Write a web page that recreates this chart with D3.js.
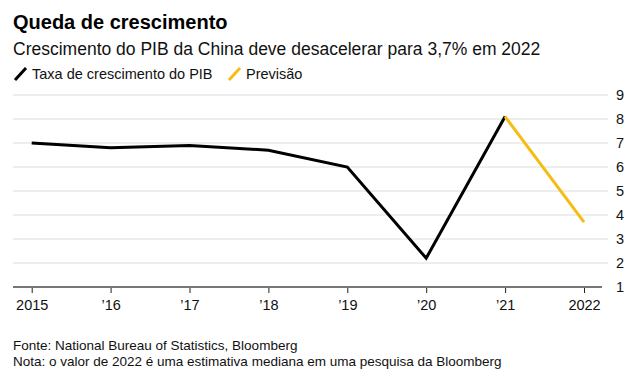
<!DOCTYPE html>
<html>
<head>
<meta charset="utf-8">
<script src="https://cdn.jsdelivr.net/npm/d3@7"></script>
<style>
  body { margin: 0; background: #fff; }
  svg { font-family: "Liberation Sans", Arial, sans-serif; }
</style>
</head>
<body>
<div id="chart"></div>
<script>
(function() {
    'use strict';

    var years = ['2015', '2016', '2017', '2018', '2019', '2020', '2021', '2022'];
    var tickLabels = ['2015', '\u201916', '\u201917', '\u201918', '\u201919', '\u201920', '\u201921', '2022'];
    var gdpGrowth = [7.0, 6.8, 6.9, 6.7, 6.0, 2.2, 8.1];       // 2015-2021
    var forecast = [8.1, 3.7];                                 // 2021-2022
    var forecastYears = ['2021', '2022'];
    var yTicks = [1, 2, 3, 4, 5, 6, 7, 8, 9];

    var width = 636, height = 379;
    var area = { left: 13, right: 608, top: 95, bottom: 287 };

    var svg = d3.select('#chart')
    .append('svg')
      .attr('width', width)
      .attr('height', height);

    // titles
    svg.append('text')
      .attr('x', 13).attr('y', 29)
      .attr('font-size', '20px')
      .attr('font-weight', 'bold')
      .attr('fill', '#000')
      .text('Queda de crescimento');

    svg.append('text')
      .attr('x', 13).attr('y', 55)
      .attr('font-size', '17.5px')
      .attr('fill', '#111')
      .text('Crescimento do PIB da China deve desacelerar para 3,7% em 2022');

    // legend
    var legend = [
        { label: 'Taxa de crescimento do PIB', color: '#000', x: 13 },
        { label: 'Previs\u00e3o', color: '#f5bc12', x: 227 }
    ];
    var lg = svg.append('g').selectAll('g')
    .data(legend)
    .enter().append('g')
      .attr('transform', function(d) { return 'translate(' + d.x + ',0)'; });
    lg.append('line')
      .attr('x1', 2).attr('y1', 80)
      .attr('x2', 13).attr('y2', 68)
      .attr('stroke', function(d) { return d.color; })
      .attr('stroke-width', 3);
    lg.append('text')
      .attr('x', 19).attr('y', 79)
      .attr('font-size', '14.5px')
      .attr('fill', '#111')
      .text(function(d) { return d.label; });

    var x = d3.scalePoint()
      .domain(years)
      .range([31.7, 584]);

    var y = d3.scaleLinear()
      .domain([1, 9])
      .range([area.bottom, area.top]);

    // horizontal grid
    svg.append('g')
    .selectAll('line')
    .data(yTicks.filter(function(d) { return d > 1; }))
    .enter().append('line')
      .attr('x1', area.left)
      .attr('x2', area.right)
      .attr('y1', function(d) { return y(d); })
      .attr('y2', function(d) { return y(d); })
      .attr('stroke', '#dcdcdc')
      .attr('stroke-width', 1);

    // y axis (right)
    var yAxis = d3.axisRight(y)
      .tickValues(yTicks)
      .tickSize(0)
      .tickPadding(0);
    var yg = svg.append('g')
      .attr('transform', 'translate(616,0)')
      .call(yAxis);
    yg.select('.domain').remove();
    yg.selectAll('text')
      .attr('font-size', '14.5px')
      .attr('font-family', '"Liberation Sans", Arial, sans-serif')
      .attr('fill', '#111');

    // x axis
    var xAxis = d3.axisBottom(x)
      .tickFormat(function(d, i) { return tickLabels[i]; })
      .tickSize(6)
      .tickPadding(7);
    var xg = svg.append('g')
      .attr('transform', 'translate(0,' + area.bottom + ')')
      .call(xAxis);
    xg.select('.domain').remove();
    xg.selectAll('.tick line').attr('stroke', '#222');
    xg.selectAll('text')
      .attr('font-size', '14.5px')
      .attr('font-family', '"Liberation Sans", Arial, sans-serif')
      .attr('fill', '#111');
    svg.append('line')
      .attr('x1', area.left).attr('x2', 602)
      .attr('y1', area.bottom).attr('y2', area.bottom)
      .attr('stroke', '#777')
      .attr('stroke-width', 2);

    var lineGen = d3.line()
      .x(function(d) { return x(d[0]); })
      .y(function(d) { return y(d[1]); });

    svg.append('path')
      .datum(gdpGrowth.map(function(v, i) { return [years[i], v]; }))
      .attr('d', lineGen)
      .attr('fill', 'none')
      .attr('stroke', '#000')
      .attr('stroke-width', 3);

    svg.append('path')
      .datum(forecast.map(function(v, i) { return [forecastYears[i], v]; }))
      .attr('d', lineGen)
      .attr('fill', 'none')
      .attr('stroke', '#f5bc12')
      .attr('stroke-width', 3);

    // footnotes
    svg.append('text')
      .attr('x', 13).attr('y', 350)
      .attr('font-size', '13.5px')
      .attr('fill', '#111')
      .text('Fonte: National Bureau of Statistics, Bloomberg');
    svg.append('text')
      .attr('x', 13).attr('y', 366)
      .attr('font-size', '13.5px')
      .attr('fill', '#111')
      .text('Nota: o valor de 2022 \u00e9 uma estimativa mediana em uma pesquisa da Bloomberg');

})();
</script>
</body>
</html>
